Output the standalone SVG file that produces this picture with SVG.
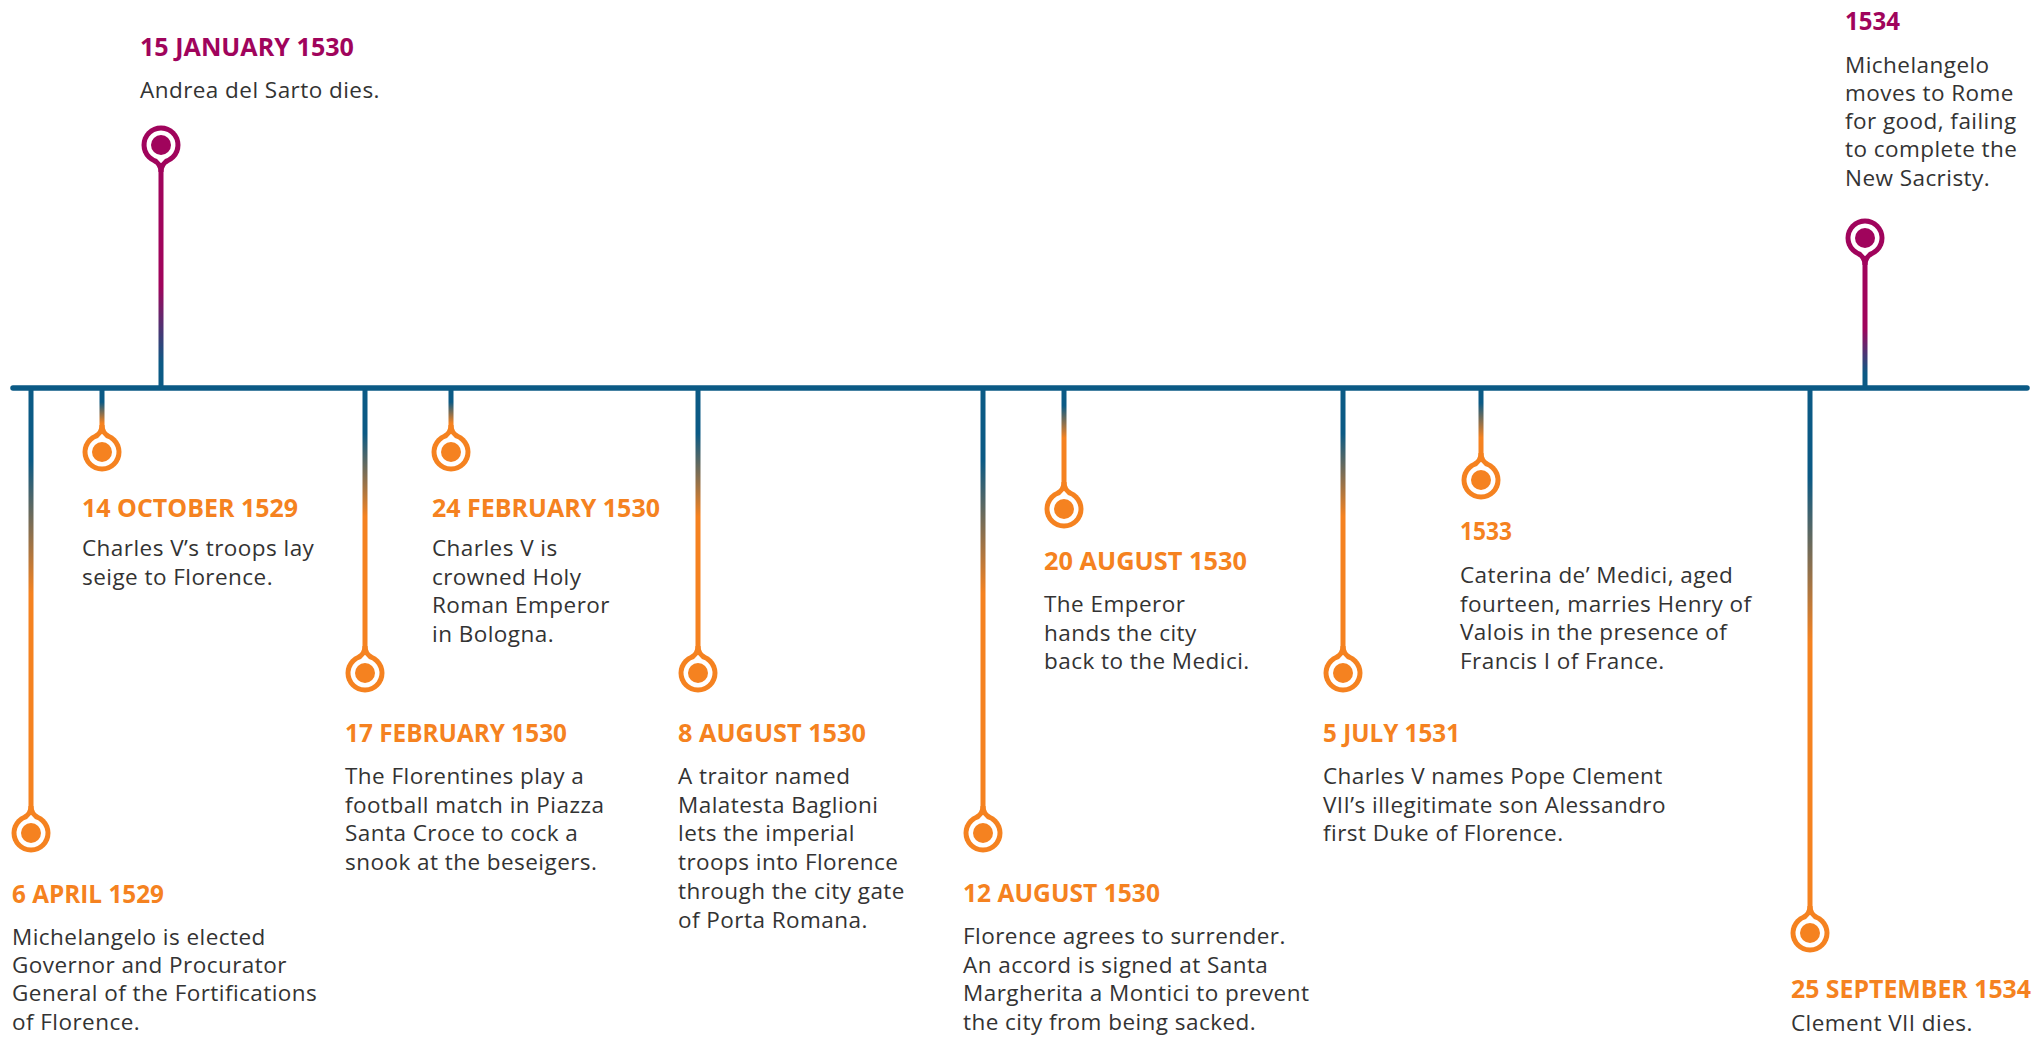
<svg xmlns="http://www.w3.org/2000/svg" xmlns:xlink="http://www.w3.org/1999/xlink" width="2044" height="1038" viewBox="0 0 2044 1038">
<style>
.t{font-family:"Open Sans","Liberation Sans",sans-serif;font-weight:700;font-size:24.5px}
.o{fill:#F58220}
.m{fill:#A0045C}
.b{font-family:"Open Sans","Liberation Sans",sans-serif;font-weight:400;font-size:22.5px;letter-spacing:0.45px;fill:#333333}
.axis{stroke:#0B5A85;stroke-width:5.5;stroke-linecap:round;fill:none}
</style>
<defs>
<linearGradient id="gLong" x1="0" y1="0" x2="0" y2="1">
<stop offset="0" stop-color="#0B5A85"/><stop offset="0.17" stop-color="#0B5A85"/><stop offset="0.48" stop-color="#F58220"/><stop offset="1" stop-color="#F58220"/>
</linearGradient>
<linearGradient id="gMid" x1="0" y1="0" x2="0" y2="1">
<stop offset="0" stop-color="#0B5A85"/><stop offset="0.2" stop-color="#0B5A85"/><stop offset="0.66" stop-color="#F58220"/><stop offset="1" stop-color="#F58220"/>
</linearGradient>
<linearGradient id="gShort" x1="0" y1="0" x2="0" y2="1">
<stop offset="0" stop-color="#0B5A85"/><stop offset="0.3" stop-color="#0B5A85"/><stop offset="0.75" stop-color="#F58220"/><stop offset="1" stop-color="#F58220"/>
</linearGradient>
<linearGradient id="gUp" x1="0" y1="0" x2="0" y2="1">
<stop offset="0" stop-color="#A0045C"/><stop offset="0.55" stop-color="#A0045C"/><stop offset="0.89" stop-color="#0B5A85"/><stop offset="1" stop-color="#0B5A85"/>
</linearGradient>
<g id="pin">
<circle r="19.5" fill="currentColor"/>
<path d="M-2.5,-27 Q-2.5,-20.5 -8,-17.8 L8,-17.8 Q2.5,-20.5 2.5,-27 Z" fill="currentColor"/>
<path d="M0,-18.3 L-4,-13.94 A14.5,14.5 0 1 0 4,-13.94 Z" fill="#FFFFFF"/>
<circle r="10" fill="currentColor"/>
</g>
</defs>
<rect width="2044" height="1038" fill="#FFFFFF"/>

<g id="connectors">
<line class="axis" x1="13" y1="388" x2="2027" y2="388"/>
<rect x="28.5" y="388" width="5" height="428" fill="url(#gLong)"/>
<rect x="99.5" y="388" width="5" height="47" fill="url(#gShort)"/>
<rect x="158.5" y="162" width="5" height="226" fill="url(#gUp)"/>
<rect x="362.5" y="388" width="5" height="268" fill="url(#gLong)"/>
<rect x="448.5" y="388" width="5" height="47" fill="url(#gShort)"/>
<rect x="695.5" y="388" width="5" height="268" fill="url(#gLong)"/>
<rect x="980.5" y="388" width="5" height="428" fill="url(#gLong)"/>
<rect x="1061.5" y="388" width="5" height="104" fill="url(#gLong)"/>
<rect x="1340.5" y="388" width="5" height="268" fill="url(#gLong)"/>
<rect x="1478.5" y="388" width="5" height="75" fill="url(#gMid)"/>
<rect x="1862.5" y="255" width="5" height="133" fill="url(#gUp)"/>
<rect x="1807.5" y="388" width="5" height="528" fill="url(#gLong)"/>
</g>

<g id="event-1529-04-06">
<use xlink:href="#pin" href="#pin" transform="translate(31,833)" color="#F58220"/>
<text class="t o" x="12" y="903" textLength="152" lengthAdjust="spacingAndGlyphs">6 APRIL 1529</text>
<text class="b" x="12" y="945"><tspan x="12">Michelangelo is elected</tspan><tspan x="12" dy="28.2">Governor and Procurator</tspan><tspan x="12" dy="28.2">General of the Fortifications</tspan><tspan x="12" dy="28.2">of Florence.</tspan></text>
</g>

<g id="event-1529-10-14">
<use xlink:href="#pin" href="#pin" transform="translate(102,452)" color="#F58220"/>
<text class="t o" x="82" y="517" textLength="216" lengthAdjust="spacingAndGlyphs">14 OCTOBER 1529</text>
<text class="b" x="82" y="556"><tspan x="82">Charles V’s troops lay</tspan><tspan x="82" dy="28.5">seige to Florence.</tspan></text>
</g>

<g id="event-1530-01-15">
<use xlink:href="#pin" href="#pin" transform="translate(161,145) rotate(180)" color="#A0045C"/>
<text class="t m" x="140" y="56" textLength="214" lengthAdjust="spacingAndGlyphs">15 JANUARY 1530</text>
<text class="b" x="140" y="98">Andrea del Sarto dies.</text>
</g>

<g id="event-1530-02-17">
<use xlink:href="#pin" href="#pin" transform="translate(365,673)" color="#F58220"/>
<text class="t o" x="345" y="742" textLength="222" lengthAdjust="spacingAndGlyphs">17 FEBRUARY 1530</text>
<text class="b" x="345" y="784"><tspan x="345">The Florentines play a</tspan><tspan x="345" dy="28.5">football match in Piazza</tspan><tspan x="345" dy="28.5">Santa Croce to cock a</tspan><tspan x="345" dy="28.5">snook at the beseigers.</tspan></text>
</g>

<g id="event-1530-02-24">
<use xlink:href="#pin" href="#pin" transform="translate(451,452)" color="#F58220"/>
<text class="t o" x="432" y="517" textLength="228" lengthAdjust="spacingAndGlyphs">24 FEBRUARY 1530</text>
<text class="b" x="432" y="556"><tspan x="432">Charles V is</tspan><tspan x="432" dy="28.5">crowned Holy</tspan><tspan x="432" dy="28.5">Roman Emperor</tspan><tspan x="432" dy="28.5">in Bologna.</tspan></text>
</g>

<g id="event-1530-08-08">
<use xlink:href="#pin" href="#pin" transform="translate(698,673)" color="#F58220"/>
<text class="t o" x="678" y="742" textLength="188" lengthAdjust="spacingAndGlyphs">8 AUGUST 1530</text>
<text class="b" x="678" y="784"><tspan x="678">A traitor named</tspan><tspan x="678" dy="28.7">Malatesta Baglioni</tspan><tspan x="678" dy="28.7">lets the imperial</tspan><tspan x="678" dy="28.7">troops into Florence</tspan><tspan x="678" dy="28.7">through the city gate</tspan><tspan x="678" dy="28.7">of Porta Romana.</tspan></text>
</g>

<g id="event-1530-08-12">
<use xlink:href="#pin" href="#pin" transform="translate(983,833)" color="#F58220"/>
<text class="t o" x="963" y="902" textLength="197" lengthAdjust="spacingAndGlyphs">12 AUGUST 1530</text>
<text class="b" x="963" y="944"><tspan x="963">Florence agrees to surrender.</tspan><tspan x="963" dy="28.5">An accord is signed at Santa</tspan><tspan x="963" dy="28.5">Margherita a Montici to prevent</tspan><tspan x="963" dy="28.5">the city from being sacked.</tspan></text>
</g>

<g id="event-1530-08-20">
<use xlink:href="#pin" href="#pin" transform="translate(1064,509)" color="#F58220"/>
<text class="t o" x="1044" y="570" textLength="203" lengthAdjust="spacingAndGlyphs">20 AUGUST 1530</text>
<text class="b" x="1044" y="612"><tspan x="1044">The Emperor</tspan><tspan x="1044" dy="28.5">hands the city</tspan><tspan x="1044" dy="28.5">back to the Medici.</tspan></text>
</g>

<g id="event-1531-07-05">
<use xlink:href="#pin" href="#pin" transform="translate(1343,673)" color="#F58220"/>
<text class="t o" x="1323" y="742" textLength="137" lengthAdjust="spacingAndGlyphs">5 JULY 1531</text>
<text class="b" x="1323" y="784"><tspan x="1323">Charles V names Pope Clement</tspan><tspan x="1323" dy="28.5">VII’s illegitimate son Alessandro</tspan><tspan x="1323" dy="28.5">first Duke of Florence.</tspan></text>
</g>

<g id="event-1533">
<use xlink:href="#pin" href="#pin" transform="translate(1481,480)" color="#F58220"/>
<text class="t o" x="1460" y="540" textLength="52" lengthAdjust="spacingAndGlyphs">1533</text>
<text class="b" x="1460" y="583"><tspan x="1460">Caterina de’ Medici, aged</tspan><tspan x="1460" dy="28.5">fourteen, marries Henry of</tspan><tspan x="1460" dy="28.5">Valois in the presence of</tspan><tspan x="1460" dy="28.5">Francis I of France.</tspan></text>
</g>

<g id="event-1534">
<use xlink:href="#pin" href="#pin" transform="translate(1865,238) rotate(180)" color="#A0045C"/>
<text class="t m" x="1845" y="30" textLength="55" lengthAdjust="spacingAndGlyphs">1534</text>
<text class="b" x="1845" y="72.7"><tspan x="1845">Michelangelo</tspan><tspan x="1845" dy="28.2">moves to Rome</tspan><tspan x="1845" dy="28.2">for good, failing</tspan><tspan x="1845" dy="28.2">to complete the</tspan><tspan x="1845" dy="28.2">New Sacristy.</tspan></text>
</g>

<g id="event-1534-09-25">
<use xlink:href="#pin" href="#pin" transform="translate(1810,933)" color="#F58220"/>
<text class="t o" x="1791" y="998" textLength="240" lengthAdjust="spacingAndGlyphs">25 SEPTEMBER 1534</text>
<text class="b" x="1791" y="1031">Clement VII dies.</text>
</g>
</svg>
